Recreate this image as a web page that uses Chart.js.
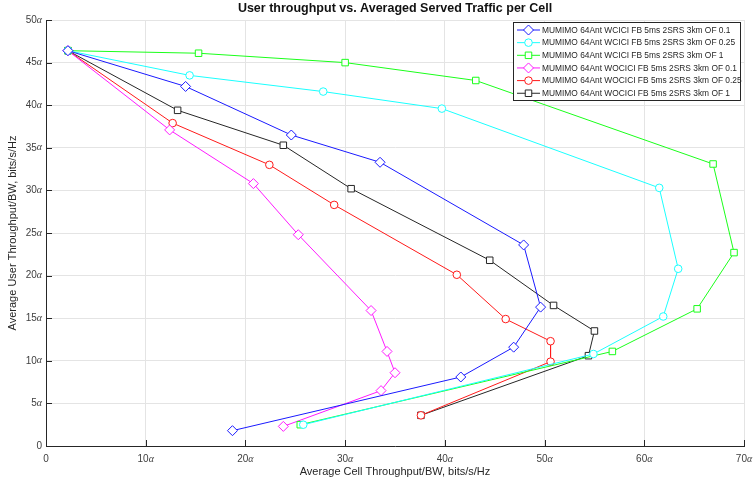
<!DOCTYPE html>
<html>
<head>
<meta charset="utf-8">
<script src="https://cdn.jsdelivr.net/npm/chart.js@4.4.1/dist/chart.umd.min.js"></script>
<style>
  html, body { margin: 0; padding: 0; background: #fff; }
  #wrap { width: 754px; height: 486px; }
</style>
</head>
<body>
<div id="wrap"><canvas id="myChart"></canvas></div>
<script>
// cell throughput (x) / user throughput (y) per series, bits/s/Hz
const seriesNames = [
  'MUMIMO 64Ant WCICI FB 5ms 2SRS 3km OF 0.1',
  'MUMIMO 64Ant WCICI FB 5ms 2SRS 3km OF 0.25',
  'MUMIMO 64Ant WCICI FB 5ms 2SRS 3km OF 1',
  'MUMIMO 64Ant WOCICI FB 5ms 2SRS 3km OF 0.1',
  'MUMIMO 64Ant WOCICI FB 5ms 2SRS 3km OF 0.25',
  'MUMIMO 64Ant WOCICI FB 5ms 2SRS 3km OF 1'
]

const wcici01X = [2.2, 14.0, 24.6, 33.5, 47.9, 49.6, 46.9, 41.6, 18.7]
const wcici01Y = [46.4, 42.2, 36.5, 33.3, 23.6, 16.3, 11.6, 8.1, 1.8]

const wcici025X = [2.2, 14.4, 27.8, 39.7, 61.5, 63.4, 61.9, 54.9, 25.8]
const wcici025Y = [46.4, 43.5, 41.6, 39.6, 30.3, 20.8, 15.2, 10.8, 2.5]

const wcici1X = [2.2, 15.3, 30.0, 43.1, 66.9, 69.0, 65.3, 56.8, 25.5]
const wcici1Y = [46.4, 46.1, 45.0, 42.9, 33.1, 22.7, 16.1, 11.1, 2.5]

const wocici01X = [2.2, 12.4, 20.8, 25.3, 32.6, 34.2, 35.0, 33.6, 23.8]
const wocici01Y = [46.4, 37.1, 30.8, 24.8, 15.9, 11.1, 8.6, 6.5, 2.3]

const wocici025X = [2.2, 12.7, 22.4, 28.9, 41.2, 46.1, 50.6, 50.6, 37.6]
const wocici025Y = [46.4, 37.9, 33.0, 28.3, 20.1, 14.9, 12.3, 9.9, 3.6]

const wocici1X = [2.2, 13.2, 23.8, 30.6, 44.5, 50.9, 55.0, 54.4, 37.6]
const wocici1Y = [46.4, 39.4, 35.3, 30.2, 21.8, 16.5, 13.5, 10.6, 3.6]

const xTicks = [0, 10, 20, 30, 40, 50, 60, 70]
const yTicks = [0, 5, 10, 15, 20, 25, 30, 35, 40, 45, 50]

const seriesX = [wcici01X, wcici025X, wcici1X, wocici01X, wocici025X, wocici1X]
const seriesY = [wcici01Y, wcici025Y, wcici1Y, wocici01Y, wocici025Y, wocici1Y]
const colors = ['#1a1aff', '#1affff', '#1aff1a', '#ff1aff', '#ff1a1a', '#262626']
const markers = ['rectRot', 'circle', 'rect', 'rectRot', 'circle', 'rect']
const radii = [5, 3.8, 4.6, 5, 3.8, 4.6]

const datasets = seriesNames.map((name, i) => ({
  label: name,
  data: seriesX[i].map((x, j) => ({x: x, y: seriesY[i][j]})),
  showLine: true,
  borderColor: colors[i],
  backgroundColor: '#ffffff',
  borderWidth: 1,
  pointStyle: markers[i],
  pointRadius: radii[i],
  pointBorderColor: colors[i],
  pointBackgroundColor: '#ffffff',
  pointBorderWidth: 1
}))

const fontFam = '"Liberation Sans", Arial, Helvetica, sans-serif'

// tick label: number upright, the alpha unit in italic serif
function drawTickLabel(ctx, v, x, y, align) {
  const num = String(v)
  ctx.font = '10px ' + fontFam
  const wNum = ctx.measureText(num).width
  let wAl = 0
  if (v !== 0) {
    ctx.font = 'italic 10px "Liberation Serif", "DejaVu Serif", serif'
    wAl = ctx.measureText('α').width
  }
  const total = wNum + wAl
  let x0 = align === 'right' ? x - total : x - total / 2
  ctx.textAlign = 'left'
  ctx.font = '10px ' + fontFam
  ctx.fillText(num, x0, y)
  if (v !== 0) {
    ctx.font = 'italic 10px "Liberation Serif", "DejaVu Serif", serif'
    ctx.fillText('α', x0 + wNum, y)
  }
}

// short ticks pointing into the plot, tick labels and boxed legend
const axisExtras = {
  id: 'axisExtras',
  afterDraw(chart) {
    const ctx = chart.ctx
    const xs = chart.scales.x, ys = chart.scales.y
    const a = chart.chartArea
    ctx.save()
    ctx.strokeStyle = '#262626'
    ctx.lineWidth = 1
    ctx.beginPath()
    xTicks.forEach(v => {
      const px = Math.round(xs.getPixelForValue(v)) + 0.5
      ctx.moveTo(px, a.bottom)
      ctx.lineTo(px, a.bottom - 6)
    })
    yTicks.forEach(v => {
      const py = Math.round(ys.getPixelForValue(v)) + 0.5
      ctx.moveTo(a.left, py)
      ctx.lineTo(a.left + 6, py)
    })
    ctx.stroke()

    ctx.fillStyle = '#404040'
    ctx.textBaseline = 'middle'
    xTicks.forEach(v => drawTickLabel(ctx, v, xs.getPixelForValue(v), a.bottom + 13, 'center'))
    yTicks.forEach(v => drawTickLabel(ctx, v, a.left - 4, ys.getPixelForValue(v), 'right'))

    // legend
    const lx = 513, ly = 22, lw = 227, lh = 78, row = 12.65
    ctx.fillStyle = '#ffffff'
    ctx.fillRect(lx, ly, lw, lh)
    ctx.strokeStyle = '#262626'
    ctx.strokeRect(lx + 0.5, ly + 0.5, lw, lh)
    ctx.font = '8.4px ' + fontFam
    ctx.textAlign = 'left'
    seriesNames.forEach((name, i) => {
      const cy = ly + 8 + row * i
      ctx.strokeStyle = colors[i]
      ctx.beginPath()
      ctx.moveTo(517, cy)
      ctx.lineTo(540, cy)
      ctx.stroke()
      ctx.fillStyle = '#ffffff'
      Chart.helpers.drawPoint(ctx, {
        pointStyle: markers[i], radius: radii[i], borderWidth: 1, rotation: 0
      }, 528.5, cy)
      ctx.fillStyle = '#262626'
      ctx.fillText(name, 542, cy + 0.5)
    })
    ctx.restore()
  }
}

const ctx = document.getElementById('myChart')

new Chart(ctx, {
  type: 'scatter',
  data: { datasets: datasets },
  plugins: [axisExtras],
  options: {
    responsive: true,
    maintainAspectRatio: false,
    animation: false,
    layout: { padding: { left: 0, right: 10, top: 0, bottom: 0 } },
    plugins: {
      legend: { display: false },
      tooltip: { enabled: false },
      title: {
        display: true,
        fullSize: false,
        text: 'User throughput vs. Averaged Served Traffic per Cell',
        color: '#111',
        font: { family: fontFam, size: 12.5, weight: 'bold' },
        padding: { top: 1, bottom: 4 }
      }
    },
    scales: {
      x: {
        type: 'linear',
        min: 0,
        max: 70,
        afterFit: s => { s.height = 40 },
        afterBuildTicks: s => { s.ticks = xTicks.map(v => ({value: v})) },
        grid: { color: '#e4e4e4', drawTicks: false },
        border: { color: '#262626' },
        ticks: { display: false },
        title: {
          display: true,
          text: 'Average Cell Throughput/BW, bits/s/Hz',
          color: '#262626',
          font: { family: fontFam, size: 11 },
          padding: { top: 0, bottom: 7 }
        }
      },
      y: {
        type: 'linear',
        min: 0,
        max: 50,
        afterFit: s => { s.width = 46 },
        afterBuildTicks: s => { s.ticks = yTicks.map(v => ({value: v})) },
        grid: { color: '#e4e4e4', drawTicks: false },
        border: { color: '#262626' },
        ticks: { display: false },
        title: {
          display: true,
          text: 'Average User Throughput/BW, bits/s/Hz',
          color: '#262626',
          font: { family: fontFam, size: 11 },
          padding: { top: 6, bottom: 0 }
        }
      }
    }
  }
})
</script>
</body>
</html>
